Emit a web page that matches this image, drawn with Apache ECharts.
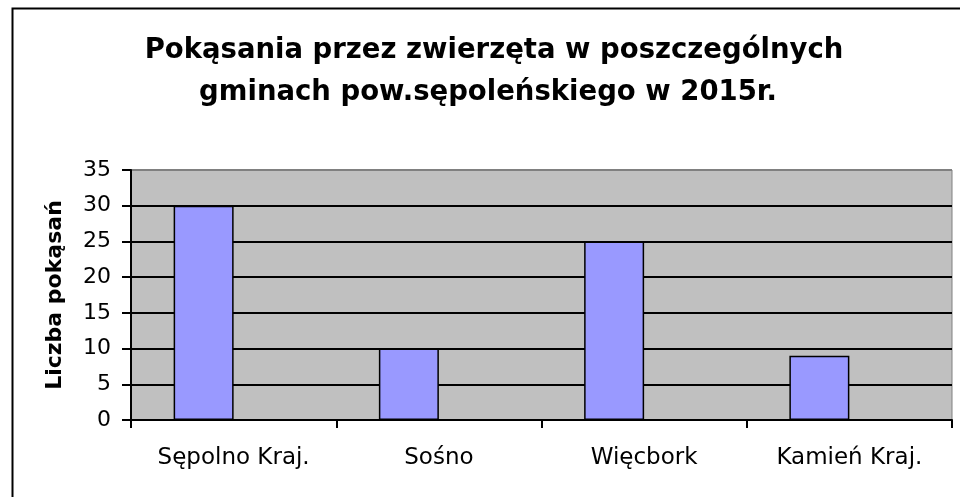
<!DOCTYPE html>
<html>
<head>
<meta charset="utf-8">
<script src="https://cdn.jsdelivr.net/npm/echarts@6/dist/echarts.min.js"></script>
<style>
html,body{margin:0;padding:0;background:#fff;}
#chart{width:960px;height:497px;}
</style>
</head>
<body>
<div id="chart"></div>
<script>
const titleLines = ['Pokąsania przez zwierzęta w poszczególnych', 'gminach pow.sępoleńskiego w 2015r.'];
const categories = ['Sępolno Kraj.', 'Sośno', 'Więcbork', 'Kamień Kraj.'];
const bites = [30, 10, 25, 9];
const emptySeries = ['-', '-', '-', '-'];
const yTicks = { min: 0, max: 35, interval: 5 };
const yAxisName = 'Liczba pokąsań';

const FONT = 'DejaVu Sans';
const titleStyle = { fontFamily: FONT, fontWeight: 'bold', fontSize: 27.5, color: '#000' };
const chart = echarts.init(document.getElementById('chart'), null, { renderer: 'canvas' });
chart.setOption({
  animation: false,
  backgroundColor: '#fff',
  title: [{
    text: titleLines[0],
    left: 489, top: 32, textAlign: 'center',
    textStyle: titleStyle
  }, {
    text: titleLines[1],
    left: 483, top: 74, textAlign: 'center',
    textStyle: titleStyle
  }],
  graphic: [{
    type: 'rect',
    left: 10, top: 6,
    shape: { width: 960, height: 520 },
    style: { fill: 'none', stroke: '#000', lineWidth: 2 },
    silent: true, z: 100
  }],
  grid: {
    left: 131, right: 8, top: 170, bottom: 77,
    show: true, backgroundColor: '#C0C0C0', borderColor: '#808080', borderWidth: 1
  },
  xAxis: {
    type: 'category',
    data: categories,
    axisLine: { lineStyle: { color: '#000', width: 2 } },
    axisTick: { show: true, length: 8, lineStyle: { color: '#000', width: 2 } },
    axisLabel: { fontFamily: FONT, fontSize: 23, color: '#000', margin: 27, interval: 0 },
    splitLine: { show: false }
  },
  yAxis: {
    type: 'value',
    min: yTicks.min, max: yTicks.max, interval: yTicks.interval,
    name: yAxisName,
    nameLocation: 'middle',
    nameGap: 65,
    nameTextStyle: { fontFamily: FONT, fontWeight: 'bold', fontSize: 22, color: '#000' },
    axisLine: { show: true, lineStyle: { color: '#000', width: 2 } },
    axisTick: { show: true, length: 9, lineStyle: { color: '#000', width: 2 } },
    axisLabel: { fontFamily: FONT, fontSize: 22, color: '#000', margin: 20 },
    splitLine: { show: true, lineStyle: { color: ['#000','#000','#000','#000','#000','#000','#000','#808080'], width: 2 } }
  },
  series: [{
    name: yAxisName,
    type: 'bar',
    data: bites,
    barWidth: 60,
    barGap: '0%',
    itemStyle: { color: '#9999FF', borderColor: '#000', borderWidth: 1.5 }
  }, {
    name: '',
    type: 'bar',
    data: emptySeries,
    barWidth: 60,
    barGap: '0%',
    itemStyle: { color: '#9999FF', borderColor: '#000', borderWidth: 1.5 }
  }]
});
</script>
</body>
</html>
